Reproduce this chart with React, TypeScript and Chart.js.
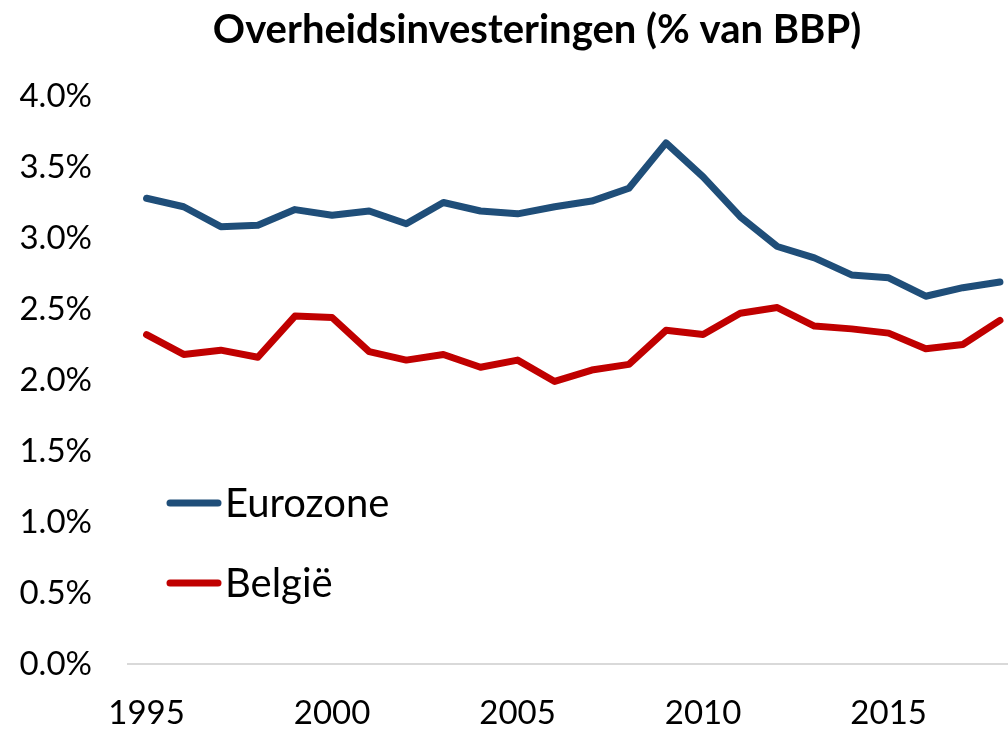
import React, { useEffect, useRef } from "react";
import { Chart, registerables } from "chart.js";

Chart.register(...registerables);

const years: string[] = [
  "1995","1996","1997","1998","1999","2000","2001","2002","2003","2004","2005","2006",
  "2007","2008","2009","2010","2011","2012","2013","2014","2015","2016","2017","2018",
];
const eurozone: number[] = [
  3.28, 3.22, 3.08, 3.09, 3.20, 3.16, 3.19, 3.10, 3.25, 3.19, 3.17, 3.22,
  3.26, 3.35, 3.67, 3.43, 3.15, 2.94, 2.86, 2.74, 2.72, 2.59, 2.65, 2.69,
];
const belgie: number[] = [
  2.32, 2.18, 2.21, 2.16, 2.45, 2.44, 2.20, 2.14, 2.18, 2.09, 2.14, 1.99,
  2.07, 2.11, 2.35, 2.32, 2.47, 2.51, 2.38, 2.36, 2.33, 2.22, 2.25, 2.42,
];
const seriesNames: string[] = ["Eurozone", "België"];
const seriesColors: string[] = ["#1F4E79", "#C00000"];
const titleText = "Overheidsinvesteringen (% van BBP)";

const FONT = "Lato, 'Noto Sans', sans-serif";

const titleAndLegend = {
  id: "titleAndLegend",
  afterDatasetsDraw(chart: any) {
    const ctx = chart.ctx;
    ctx.save();
    ctx.fillStyle = "#000";
    ctx.font = `bold 40px ${FONT}`;
    ctx.textAlign = "center";
    ctx.textBaseline = "alphabetic";
    ctx.fillText(titleText, 537, 43);

    const rows = [503, 583];
    chart.data.datasets.forEach((ds: any, i: number) => {
      const y = rows[i];
      ctx.strokeStyle = ds.borderColor;
      ctx.lineWidth = 7;
      ctx.lineCap = "round";
      ctx.beginPath();
      ctx.moveTo(170, y);
      ctx.lineTo(218, y);
      ctx.stroke();
      ctx.fillStyle = "#000";
      ctx.font = `40px ${FONT}`;
      ctx.textBaseline = "middle";
      ctx.textAlign = "left";
      ctx.fillText(ds.label, 225, y + 1);
    });
    ctx.restore();
  },
};

export default function App() {
  const ref = useRef<HTMLCanvasElement | null>(null);
  useEffect(() => {
    document.body.style.margin = "0";
    document.body.style.overflow = "hidden";
    if (!ref.current) return;
    const chart = new Chart(ref.current, {
      type: "line",
      data: {
        labels: years,
        datasets: [
          {
            label: seriesNames[0],
            data: eurozone,
            borderColor: seriesColors[0],
            backgroundColor: seriesColors[0],
            borderWidth: 7,
            pointRadius: 0,
            tension: 0,
            borderCapStyle: "round",
            borderJoinStyle: "round",
          },
          {
            label: seriesNames[1],
            data: belgie,
            borderColor: seriesColors[1],
            backgroundColor: seriesColors[1],
            borderWidth: 7,
            pointRadius: 0,
            tension: 0,
            borderCapStyle: "round",
            borderJoinStyle: "round",
          },
        ],
      },
      options: {
        animation: false,
        responsive: true,
        maintainAspectRatio: false,
        layout: { padding: { left: 0, right: 3, top: 96, bottom: 0 } },
        plugins: {
          legend: { display: false },
          tooltip: { enabled: false },
          title: { display: false },
        },
        scales: {
          x: {
            type: "category",
            offset: true,
            grid: { display: false, drawTicks: false },
            border: { display: true, color: "#D9D9D9", width: 2 },
            ticks: {
              autoSkip: false,
              maxRotation: 0,
              padding: 30,
              color: "#000",
              font: { family: FONT, size: 33 },
              callback: (_v: any, i: number) => (Number(years[i]) % 5 === 0 ? years[i] : ""),
            },
            afterFit: (s: any) => {
              s.height = 66;
            },
          },
          y: {
            min: 0,
            max: 4,
            grid: { display: false, drawTicks: false },
            border: { display: false },
            ticks: {
              stepSize: 0.5,
              padding: 36,
              color: "#000",
              font: { family: FONT, size: 33 },
              callback: (v: any) => Number(v).toFixed(1) + "%",
            },
            afterFit: (s: any) => {
              s.width = 128;
            },
          },
        },
      },
      plugins: [titleAndLegend],
    });
    return () => chart.destroy();
  }, []);
  return (
    <div style={{ width: 1008, height: 730, overflow: "hidden", position: "relative" }}>
      <div style={{ width: 1030, height: 730, position: "absolute", left: 0, top: 0 }}>
        <canvas ref={ref} />
      </div>
    </div>
  );
}
